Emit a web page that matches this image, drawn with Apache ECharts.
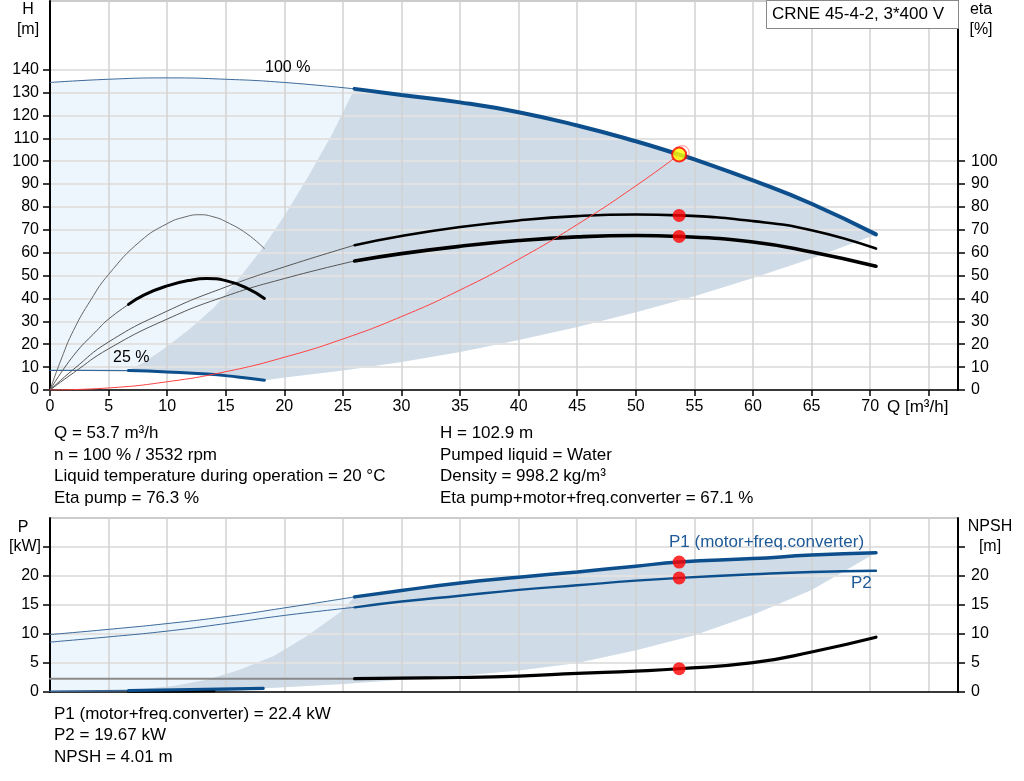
<!DOCTYPE html>
<html><head><meta charset="utf-8">
<script src="https://cdn.jsdelivr.net/npm/echarts@6/dist/echarts.min.js"></script>
<style>html,body{margin:0;padding:0;background:#fff}#c{width:1024px;height:781px}</style>
</head><body><div id="c"></div>
<script>
const FONT = '"Liberation Sans", Arial, sans-serif';

// ---- tick labels ----
const qTicks = [0,5,10,15,20,25,30,35,40,45,50,55,60,65,70,75];
const qLabels = [0,5,10,15,20,25,30,35,40,45,50,55,60,65,70];
const hLabels = [0,10,20,30,40,50,60,70,80,90,100,110,120,130,140];
const etaLabels = [0,10,20,30,40,50,60,70,80,90,100];
const pTicks = [0,5,10,15,20,25];
const pLabels = [0,5,10,15,20];

// ---- top chart: head curves [Q, H] ----
const h100 = [[0,134.4],[5,135.8],[10,136.4],[15,135.8],[20,134.4],[26,131.6],[30,128.9],[35,125.7],[40,121.4],[45,115.6],[50,108.7],[53.7,102.9],[55,100.8],[60,91.6],[65,81.4],[70.5,68]];
const h25 = [[0,8.6],[3,8.6],[6.7,8.5],[10,7.9],[13.4,7.0],[16,5.7],[18.3,4.3]];
const minFlowH = [[6.7,8.5],[8,12],[10,19],[12,27],[14,36],[16,48],[18,61],[20,76],[22,93],[24,111],[26,131.6]];
const maxFlowH = [[18.3,4.3],[20,5.5],[25,8.5],[30,12.2],[35,16.6],[40,21.8],[45,27.5],[50,34],[55,41],[60,49],[65,57.5],[70.5,68]];
const systemCurve = [[0,0],[5,0.9],[10,3.6],[15,8],[20,14.3],[25,22.3],[30,32.1],[35,43.7],[40,57.1],[45,72.3],[50,89.2],[53.7,102.9]];

// ---- top chart: efficiency curves [Q, eta %] ----
const etaPump100 = [[0,0],[2,9],[5,21],[10,34.5],[15,45],[20,53.8],[26,63.3],[30,67.3],[35,71.2],[40,74.1],[45,76.0],[50,76.7],[53.7,76.3],[60,73.8],[65,69.8],[70.5,61.8]];
const etaTotal100 = [[0,0],[2,7.5],[5,18],[10,31],[15,41],[20,48.7],[26,56.4],[30,59.6],[35,62.8],[40,65.3],[45,66.9],[50,67.5],[53.7,67.1],[60,64.7],[65,60.3],[70.5,54.1]];
const etaPump25 = [[0,0],[1,14],[2,26],[3.5,39.5],[5,50.5],[7.7,65],[10,72.7],[11.5,75.6],[12.8,76.6],[14,75.6],[15,73.6],[16.8,68.3],[18.3,61.8]];
const etaTotal25 = [[0,0],[2,15],[4,26],[5,31],[6.7,37.4],[8,41.5],[10,45.5],[12,48],[13.4,48.7],[15,47.8],[16.8,44.5],[18.3,40]];

// ---- bottom chart: power / NPSH [Q, value] ----
const p1 = [[0,9.9],[5,10.8],[10,11.8],[15,13.0],[20,14.5],[26,16.4],[30,17.5],[35,18.8],[40,19.8],[45,20.7],[50,21.7],[53.7,22.4],[60,23.0],[65,23.6],[70.5,24.0]];
const p2 = [[0,8.6],[5,9.5],[10,10.5],[15,11.8],[20,13.2],[26,14.6],[30,15.6],[35,16.6],[40,17.6],[45,18.4],[50,19.2],[53.7,19.67],[60,20.3],[65,20.7],[70.5,20.9]];
const npsh = [[0,2.3],[26,2.3],[30,2.4],[35,2.5],[40,2.75],[45,3.2],[50,3.6],[53.7,4.01],[60,5.05],[65,6.9],[70.5,9.45]];
const p1_25 = [[0,0.15],[6.7,0.28],[12,0.42],[18.2,0.65]];
const p2_25 = [[0,0.1],[6.7,0.2],[12,0.32],[18.2,0.5]];
const npsh25 = [[6.7,0.12],[10,0.15],[14,0.2]];
const minFlowP = [[6.7,0.28],[7.7,0.46],[10.5,1.05],[13.4,2.1],[16.2,3.85],[19.1,6.2],[21.9,9.6],[24.8,13.8],[26,16.4]];
const maxFlowP = [[18.2,0.65],[20,0.8],[25,1.4],[30,2.1],[35,2.8],[40,3.7],[45,5.0],[50,7.2],[55,9.8],[60,13.3],[65,17.6],[70.5,24]];

// ---- duty point ----
const dutyQ = 53.7;
const dutyH = 102.9, dutyEtaPump = 76.3, dutyEtaTotal = 67.1;
const dutyP1 = 22.4, dutyP2 = 19.67, dutyNpsh = 4.01;

const BLUE = '#0c4f8c';
const THINBLUE = '#3a6899';
const LIGHT = '#edf5fd';
const DARK = '#cfdbe6';

const seg = (arr, a, b) => arr.filter(p => p[0] >= a && p[0] <= b);
const rev = arr => arr.slice().reverse();

const lightTop = h100.concat(rev(maxFlowH), rev(h25));
const darkTop = seg(h100, 26, 80).concat(rev(maxFlowH), rev(seg(h25, 6.7, 18.3)), minFlowH);
const lightBot = p1.concat(rev(maxFlowP), rev(p1_25));
const darkBot = seg(p1, 26, 80).concat(rev(maxFlowP), rev(seg(p1_25, 6.7, 18.2)), minFlowP);

function area(points, color, xi, yi) {
  return { type: 'custom', xAxisIndex: xi, yAxisIndex: yi, z: 1, silent: true, data: [0],
    renderItem: function (params, api) {
      return { type: 'polygon', shape: { points: points.map(p => api.coord(p)) }, style: { fill: color } };
    } };
}
function line(data, color, width, xi, yi, z) {
  return { type: 'line', data: data, xAxisIndex: xi, yAxisIndex: yi, symbol: 'none', showSymbol: false,
    smooth: 0.5, lineStyle: { color: color, width: width, cap: 'round' }, z: z || 3, silent: true };
}
function dots(data, xi, yi) {
  return { type: 'scatter', data: data, xAxisIndex: xi, yAxisIndex: yi, symbol: 'circle', symbolSize: 13,
    itemStyle: { color: '#ff0000' }, z: 6, silent: true };
}

const axisFont = { fontFamily: FONT, fontSize: 16, color: '#000' };

function xAx(gi, labels) {
  return { type: 'value', gridIndex: gi, min: 0, max: 77.5, interval: 5, z: 1.5,
    axisLine: { show: true, onZero: false, lineStyle: { color: '#000', width: 1.5 } },
    axisTick: { show: labels, length: 6, lineStyle: { color: '#000', width: 1.5 }, customValues: qTicks },
    axisLabel: labels ? Object.assign({ show: true, margin: 9, customValues: qLabels }, axisFont) : { show: false },
    splitLine: { show: true, lineStyle: { color: '#d2d2d2', width: 1.5 } } };
}
function yAx(gi, pos, max, interval, ticks, labels) {
  return { type: 'value', gridIndex: gi, position: pos, min: 0, max: max, interval: interval, z: 1.5,
    axisLine: { show: true, lineStyle: { color: '#000', width: 2 } },
    axisTick: { show: true, length: 7, lineStyle: { color: '#000', width: 1.5 }, customValues: ticks },
    axisLabel: Object.assign({ show: true, margin: pos === 'left' ? 11 : 13, customValues: labels }, axisFont),
    splitLine: { show: pos === 'left', lineStyle: { color: '#e2e2e2', width: 2 } } };
}

function txt(t, x, y, opts) {
  opts = opts || {};
  return { type: 'text', z: 50, style: { text: t, x: x, y: y, fill: opts.color || '#000',
    font: (opts.size || 17) + 'px ' + FONT, textAlign: opts.align || 'left', textVerticalAlign: 'middle' } };
}

const chart = echarts.init(document.getElementById('c'));
chart.setOption({
  animation: false,
  backgroundColor: '#fff',
  grid: [
    { left: 50, top: 1, right: 66, height: 389, show: true, borderColor: '#999', borderWidth: 1, backgroundColor: 'transparent' },
    { left: 50, top: 518, right: 66, height: 174, show: true, borderColor: '#999', borderWidth: 1, backgroundColor: 'transparent' }
  ],
  xAxis: [xAx(0, true), xAx(1, false)],
  yAxis: [
    yAx(0, 'left', 170, 10, hLabels, hLabels),
    yAx(0, 'right', 170, 10, etaLabels, etaLabels),
    yAx(1, 'left', 30, 5, pTicks, pLabels),
    yAx(1, 'right', 30, 5, pTicks, pLabels)
  ],
  series: [
    area(lightTop, LIGHT, 0, 0),
    area(darkTop, DARK, 0, 0),
    area(lightBot, LIGHT, 1, 2),
    area(darkBot, DARK, 1, 2),

    // top: head
    line(seg(h100, 0, 26), THINBLUE, 1, 0, 0),
    line(seg(h100, 26, 80), BLUE, 4, 0, 0, 4),
    line(seg(h25, 0, 6.7), THINBLUE, 1.2, 0, 0),
    line(seg(h25, 6.7, 20), BLUE, 3, 0, 0, 4),
    line(systemCurve, '#ff4040', 1, 0, 0, 4),
    // top: efficiency
    line(seg(etaPump100, 0, 26), '#555', 1, 0, 1),
    line(seg(etaPump100, 26, 80), '#000', 2.6, 0, 1),
    line(seg(etaTotal100, 0, 26), '#555', 1, 0, 1),
    line(seg(etaTotal100, 26, 80), '#000', 3.6, 0, 1),
    line(etaPump25, '#666', 1, 0, 1),
    line(seg(etaTotal25, 0, 6.7), '#555', 1, 0, 1),
    line(seg(etaTotal25, 6.7, 20), '#000', 3, 0, 1),

    // bottom: power and NPSH
    line(seg(p1, 0, 26), THINBLUE, 1, 1, 2),
    line(seg(p1, 26, 80), BLUE, 3.5, 1, 2),
    line(seg(p2, 0, 26), THINBLUE, 1, 1, 2),
    line(seg(p2, 26, 80), BLUE, 2.4, 1, 2),
    line(seg(npsh, 0, 26), '#8a8a8a', 2, 1, 3),
    line(seg(npsh, 26, 80), '#000', 3.2, 1, 3),
    line(seg(p2_25, 0, 6.7), THINBLUE, 1, 1, 2),
    line(seg(p2_25, 6.7, 20), BLUE, 2, 1, 2),
    line(npsh25, '#000', 3, 1, 3),
    line(seg(p1_25, 0, 6.7), THINBLUE, 1.2, 1, 2),
    line(seg(p1_25, 6.7, 20), BLUE, 3, 1, 2),

    // duty point markers
    dots([[dutyQ, dutyEtaPump], [dutyQ, dutyEtaTotal]], 0, 1),
    dots([[dutyQ, dutyP1], [dutyQ, dutyP2], [dutyQ, dutyNpsh]], 1, 2),
    { type: 'scatter', data: [[dutyQ, dutyH]], xAxisIndex: 0, yAxisIndex: 0, symbol: 'circle', symbolSize: 14,
      symbolOffset: [3, -2], itemStyle: { color: 'rgba(0,0,0,0)', borderColor: 'rgba(255,60,60,0.55)', borderWidth: 1.2 }, z: 6, silent: true },
    { type: 'scatter', data: [[dutyQ, dutyH]], xAxisIndex: 0, yAxisIndex: 0, symbol: 'circle', symbolSize: 14,
      itemStyle: { color: '#ffff00', borderColor: '#ff0000', borderWidth: 2 }, z: 7, silent: true }
  ],
  graphic: [
    { type: 'rect', z: 40, shape: { x: 766.5, y: 0.5, width: 192, height: 28 }, style: { fill: '#fff', stroke: '#888', lineWidth: 1 } },
    txt('CRNE 45-4-2, 3*400 V', 772, 14),
    txt('H', 28, 10, { align: 'center', size: 16 }),
    txt('[m]', 28, 30, { align: 'center', size: 16 }),
    txt('eta', 981, 10, { align: 'center', size: 16 }),
    txt('[%]', 981, 30, { align: 'center', size: 16 }),
    txt('P', 23, 528, { align: 'center', size: 16 }),
    txt('[kW]', 25, 547, { align: 'center', size: 16 }),
    txt('NPSH', 990, 527, { align: 'center', size: 16 }),
    txt('[m]', 990, 547, { align: 'center', size: 16 }),
    txt('Q [m³/h]', 887, 407),
    txt('100 %', 265, 68, { size: 16 }),
    txt('25 %', 113, 358, { size: 16 }),
    txt('P1 (motor+freq.converter)', 669, 542, { color: '#1d5a97' }),
    txt('P2', 851, 583, { color: '#1d5a97' }),
    txt('Q = 53.7 m³/h', 54, 433),
    txt('n = 100 % / 3532 rpm', 54, 455),
    txt('Liquid temperature during operation = 20 °C', 54, 476),
    txt('Eta pump = 76.3 %', 54, 498),
    txt('H = 102.9 m', 440, 433),
    txt('Pumped liquid = Water', 440, 455),
    txt('Density = 998.2 kg/m³', 440, 476),
    txt('Eta pump+motor+freq.converter = 67.1 %', 440, 498),
    txt('P1 (motor+freq.converter) = 22.4 kW', 54, 714),
    txt('P2 = 19.67 kW', 54, 735),
    txt('NPSH = 4.01 m', 54, 757)
  ]
});
</script>
</body></html>
